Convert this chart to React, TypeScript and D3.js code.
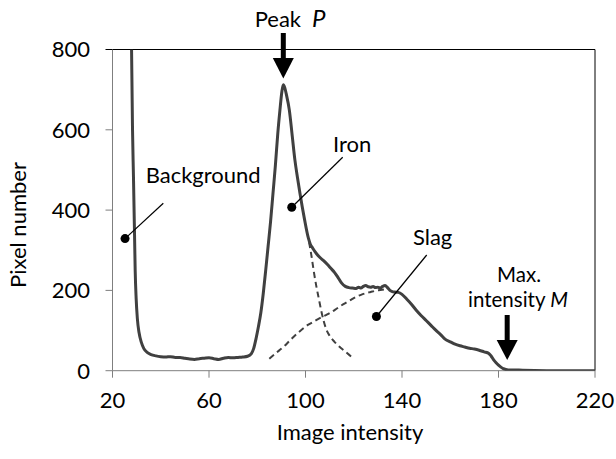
import { useEffect, useRef } from "react";
import * as d3 from "d3";

// histogram of pixel intensities
const mainIntensity = [
  27.9, 28.3, 28.7, 29.1, 29.4, 29.8, 30.3, 31, 32, 33, 34.5, 36, 38, 40, 42, 44, 46, 48, 50, 52,
  54, 56, 58, 60, 62, 64, 66, 68, 70, 72, 74, 76, 77.5, 78.5, 79.5, 80.5, 81.5, 82.5, 83.5, 84.5,
  85.5, 86.5, 87.5, 88.5, 89.4, 90.2, 90.8, 91.4, 92, 93.3, 94.5, 95.6, 96.7, 97.7, 99.5, 101.2,
  102, 103, 104.5, 106, 107.5, 109, 110.5, 112, 113.5, 115, 116.5, 118, 119.5, 121, 122, 123, 124,
  125, 126, 127, 128, 129, 130, 131, 132, 133, 134, 135, 136, 137, 138.5, 140, 142, 144, 146, 148,
  150, 152, 154, 156, 158, 160, 162, 164, 166, 168, 170, 172, 174, 176, 177, 178, 179, 180, 181,
  182, 183, 184, 186, 190, 200, 210, 220,
];
const mainCount = [
  800, 600, 480, 350, 250, 180, 130, 95, 70, 55, 45, 40, 37, 35, 34, 35, 33, 33, 31, 29,
  28, 30, 31, 32, 30, 28, 31, 33, 32, 33, 34, 36, 42, 55, 80, 110, 145, 193, 250, 310,
  370, 440, 510, 590, 649, 695, 712, 705, 690, 649, 585, 525, 480, 442, 380, 330,
  315, 305, 292, 282, 274, 265, 255, 245, 232, 218, 210, 207, 206, 205, 208, 206, 210,
  212, 209, 208, 210, 207, 208, 206, 210, 212, 207, 200, 197, 196, 195, 190, 178, 165, 150, 137,
  125, 113, 101, 90, 78, 72, 66, 62, 59, 56, 54, 51, 47, 43, 36, 27, 20, 14, 9,
  5, 3, 2, 2, 1, 0, 0, 0,
];

// fitted iron component (dashed)
const ironIntensity = [101.5, 102.5, 103.5, 104.5, 105.5, 106.5, 107.5, 108.5, 110, 112, 114, 116, 118, 120];
const ironCount = [320, 285, 245, 210, 180, 150, 125, 105, 87, 72, 60, 50, 40, 30];

// fitted slag component (dashed)
const slagIntensity = [85, 87, 89, 91, 93, 95, 97, 99, 101, 103, 105, 107, 109, 111, 113, 115, 117, 119, 121, 123, 125, 127, 129, 131, 133];
const slagCount = [30, 40, 50, 60, 72, 84, 95, 105, 114, 121, 128, 134, 140, 147, 155, 163, 170, 177, 184, 189, 193, 196, 199, 201, 203];

const xTicks = [20, 60, 100, 140, 180, 220];
const yTicks = [0, 200, 400, 600, 800];

const W = 616;
const H = 459;
const FONT = "Lato, 'Open Sans', sans-serif";
const FS = 22;

export default function App() {
  const svgRef = useRef<SVGSVGElement>(null);

  useEffect(() => {
    if (!svgRef.current) return;
    const svg = d3.select(svgRef.current);
    svg.selectAll("*").remove();

    const margin = { top: 49.5, right: 21, bottom: 88.3, left: 112.5 };
    const x = d3.scaleLinear().domain([20, 220]).range([margin.left, W - margin.right]);
    const y = d3.scaleLinear().domain([0, 800]).range([H - margin.bottom, margin.top]);
    const x0 = margin.left, x1 = W - margin.right, y0 = H - margin.bottom, y1 = margin.top;

    svg.append("defs").append("clipPath").attr("id", "plot")
      .append("rect").attr("x", x0).attr("y", y1).attr("width", x1 - x0).attr("height", y0 - y1);

    // frame
    svg.append("line").attr("x1", x0).attr("x2", x1).attr("y1", y1).attr("y2", y1).attr("stroke", "#000");
    svg.append("line").attr("x1", x1).attr("x2", x1).attr("y1", y1).attr("y2", y0).attr("stroke", "#000");

    // y axis
    const gy = svg.append("g");
    gy.append("line").attr("x1", x0).attr("x2", x0).attr("y1", y1).attr("y2", y0).attr("stroke", "#7f7f7f");
    gy.selectAll("line.t").data(yTicks).join("line").attr("class", "t")
      .attr("x1", x0 - 7).attr("x2", x0).attr("y1", (d) => y(d)).attr("y2", (d) => y(d))
      .attr("stroke", (d) => (d === 800 ? "#000" : "#7f7f7f"));
    gy.selectAll("text").data(yTicks).join("text")
      .attr("x", 90).attr("y", (d) => y(d)).attr("dy", "0.36em").attr("text-anchor", "end")
      .attr("font-family", FONT).attr("font-size", FS).attr("fill", "#000").text((d) => d);

    // x axis
    const gx = svg.append("g");
    gx.append("line").attr("x1", x0).attr("x2", x1).attr("y1", y0).attr("y2", y0).attr("stroke", "#7f7f7f");
    gx.selectAll("line.t").data(xTicks).join("line").attr("class", "t")
      .attr("x1", (d) => x(d)).attr("x2", (d) => x(d)).attr("y1", y0).attr("y2", y0 + 7)
      .attr("stroke", "#7f7f7f");
    gx.selectAll("text").data(xTicks).join("text")
      .attr("x", (d) => x(d)).attr("y", 408).attr("text-anchor", "middle")
      .attr("font-family", FONT).attr("font-size", FS).attr("fill", "#000").text((d) => d);

    // axis titles
    svg.append("text").attr("transform", "translate(26,225) rotate(-90)").attr("text-anchor", "middle")
      .attr("font-family", FONT).attr("font-size", FS).text("Pixel number");
    svg.append("text").attr("x", 350).attr("y", 440).attr("text-anchor", "middle")
      .attr("font-family", FONT).attr("font-size", FS).text("Image intensity");

    const plot = svg.append("g").attr("clip-path", "url(#plot)");
    const line = d3.line<[number, number]>().x((d) => x(d[0])).y((d) => y(d[1])).curve(d3.curveMonotoneX);

    plot.append("path").datum(d3.zip(ironIntensity, ironCount) as [number, number][])
      .attr("d", line).attr("fill", "none").attr("stroke", "#404040").attr("stroke-width", 2)
      .attr("stroke-dasharray", "6,4");
    plot.append("path").datum(d3.zip(slagIntensity, slagCount) as [number, number][])
      .attr("d", line).attr("fill", "none").attr("stroke", "#404040").attr("stroke-width", 2)
      .attr("stroke-dasharray", "6,4");
    plot.append("path").datum(d3.zip(mainIntensity, mainCount) as [number, number][])
      .attr("d", line).attr("fill", "none").attr("stroke", "#404040").attr("stroke-width", 3)
      .attr("stroke-linejoin", "round");

    // callouts: dot + leader line + label
    const callouts = [
      { label: "Background", dot: [25.2, 329], end: [163.3, 203.3], tx: 145.7, ty: 183 },
      { label: "Iron", dot: [94.3, 407], end: [342.7, 157.3], tx: 333, ty: 151.5 },
      { label: "Slag", dot: [129.4, 135], end: [426.7, 255], tx: 413, ty: 245 },
    ];
    callouts.forEach((c) => {
      const cx = x(c.dot[0]), cy = y(c.dot[1]);
      svg.append("line").attr("x1", cx).attr("y1", cy).attr("x2", c.end[0]).attr("y2", c.end[1])
        .attr("stroke", "#000").attr("stroke-width", 1.2);
      svg.append("circle").attr("cx", cx).attr("cy", cy).attr("r", 4.5).attr("fill", "#000");
      svg.append("text").attr("x", c.tx).attr("y", c.ty).attr("font-family", FONT)
        .attr("font-size", FS).text(c.label);
    });

    // arrows
    const arrow = (ax: number, top: number, headTop: number, tip: number) => {
      svg.append("rect").attr("x", ax - 2.5).attr("y", top).attr("width", 5).attr("height", headTop - top + 1).attr("fill", "#000");
      svg.append("path").attr("d", `M${ax - 10.5},${headTop}L${ax + 10.5},${headTop}L${ax},${tip}Z`).attr("fill", "#000");
    };
    arrow(x(90.8), 33, 58, 78.5);
    arrow(x(183.6), 315, 340, 360);

    svg.append("text").attr("x", 301).attr("y", 26.5).attr("font-family", FONT)
      .attr("font-size", FS).attr("text-anchor", "end").text("Peak");
    svg.append("text").attr("x", 312).attr("y", 26.5).attr("font-family", FONT)
      .attr("font-size", 24).attr("font-style", "italic").text("P");

    // two-line label
    svg.append("text").attr("x", 519).attr("y", 282).attr("text-anchor", "middle")
      .attr("font-family", FONT).attr("font-size", 20.5).text("Max.");
    const m = svg.append("text").attr("x", 518).attr("y", 307).attr("text-anchor", "middle")
      .attr("font-family", FONT).attr("font-size", 20.5);
    m.append("tspan").text("intensity ");
    m.append("tspan").attr("font-style", "italic").text("M");
  }, []);

  return (
    <svg ref={svgRef} width={W} height={H}
      style={{ position: "absolute", left: 0, top: 0, background: "#fff" }} />
  );
}
